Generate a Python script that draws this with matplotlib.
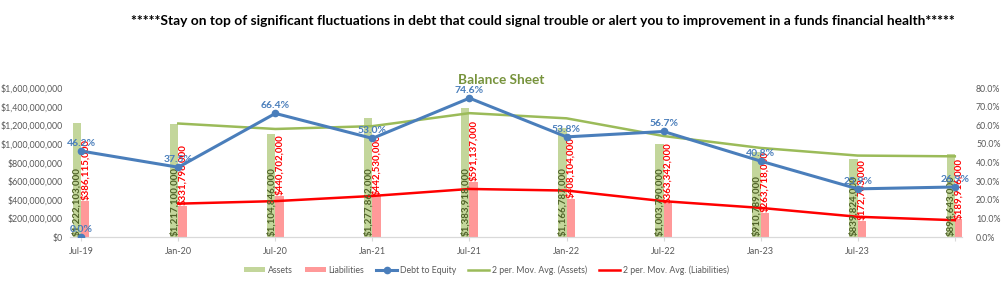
import numpy as np
import matplotlib.pyplot as plt
from matplotlib.ticker import FuncFormatter, PercentFormatter

# Data
periods = ['Jul-19', 'Jan-20', 'Jul-20', 'Jan-21', 'Jul-21', 'Jan-22', 'Jul-22', 'Jan-23', 'Jul-23', '']
assets = [1222103000, 1217100000, 1104846000, 1277862000, 1383918000,
          1166787000, 1003790000, 910789000, 839824000, 894643000]
liabilities = [386115000, 331796000, 440702000, 442530000, 591137000,
               408104000, 363342000, 263718000, 172783000, 189916000]
debt_to_equity = [0.462, 0.375, 0.664, 0.530, 0.746, 0.538, 0.567, 0.408, 0.259, 0.269]
extra_de_point = 0.0  # lone 0.0% point at Jul-19

assets_ma = [np.nan] + [(assets[i - 1] + assets[i]) / 2 for i in range(1, len(assets))]
liab_ma = [np.nan] + [(liabilities[i - 1] + liabilities[i]) / 2 for i in range(1, len(liabilities))]

x = np.arange(len(periods))
bw = 0.085

c_assets = '#c3d69b'
c_liab = '#ff9999'
c_de = '#4a7ebb'
c_ma_a = '#9bbb59'
c_ma_l = '#ff0000'
grey = '#595959'

plt.rcParams['font.family'] = ['Lato', 'DejaVu Sans']

fig = plt.figure(figsize=(10.05, 2.86), dpi=100)
ax = fig.add_axes([0.0697, 0.171, 0.8876, 0.521])

b1 = ax.bar(x - bw / 2, assets, bw, color=c_assets, label='Assets', zorder=1)
b2 = ax.bar(x + bw / 2, liabilities, bw, color=c_liab, label='Liabilities', zorder=1)
l_ma_a, = ax.plot(x, assets_ma, color=c_ma_a, lw=1.8, label='2 per. Mov. Avg. (Assets)', zorder=3)
l_ma_l, = ax.plot(x, liab_ma, color=c_ma_l, lw=1.8, label='2 per. Mov. Avg. (Liabilities)', zorder=3)

# bar labels
for xi, a in zip(x, assets):
    ax.text(xi - bw / 2, 1.5e7, f'${a:,.0f}', rotation=90, ha='center', va='bottom',
            color='#4f6228', fontsize=7, fontweight='bold', zorder=5)
for xi, l in zip(x, liabilities):
    ax.text(xi + bw / 2, l + 8e6, f'${l:,.0f}', rotation=90, ha='center', va='bottom',
            color='#ff0000', fontsize=7, fontweight='bold', zorder=5)

ax.set_ylim(0, 1.6e9)
ax.set_yticks(np.arange(0, 1.6e9 + 1, 2e8))
ax.yaxis.set_major_formatter(FuncFormatter(lambda v, p: f'${v:,.0f}'))
ax.set_xlim(-0.115, 9.075)
ax.set_xticks(x)
ax.set_xticklabels(periods)

ax2 = ax.twinx()
l_de, = ax2.plot(x, debt_to_equity, color=c_de, lw=2.2, marker='o', ms=4.5,
                 label='Debt to Equity', zorder=4)
ax2.plot([0], [extra_de_point], color=c_de, marker='o', ms=4.5, ls='none', zorder=4)
for xi, v in zip(list(x) + [0], debt_to_equity + [extra_de_point]):
    ax2.text(xi, v + 0.018, f'{v * 100:.1f}%', ha='center', va='bottom',
             color=c_de, fontsize=7.5, fontweight='bold', zorder=6)
ax2.set_ylim(0, 0.8)
ax2.set_yticks(np.arange(0, 0.81, 0.1))
ax2.yaxis.set_major_formatter(PercentFormatter(1.0, decimals=1))

for a in (ax, ax2):
    for s in ('top', 'left', 'right'):
        a.spines[s].set_visible(False)
    a.spines['bottom'].set_color('#d9d9d9')
    a.tick_params(axis='both', colors=grey, labelsize=6.3, length=0)
ax.tick_params(axis='y', pad=5)
ax2.tick_params(axis='y', pad=10)
ax.tick_params(axis='x', length=3, color='#d9d9d9', pad=4, labelsize=6.5)

fig.text(0.54, 0.925, '*****Stay on top of significant fluctuations in debt that could signal trouble '
         'or alert you to improvement in a funds financial health*****',
         ha='center', va='center', fontsize=9.9, fontweight='bold', color='black')
fig.text(0.499, 0.72, 'Balance Sheet', ha='center', va='center', fontsize=9.8,
         fontweight='bold', color='#77933c')

fig.legend(handles=[b1, b2, l_de, l_ma_a, l_ma_l], loc='center', bbox_to_anchor=(0.484, 0.055),
           ncol=5, frameon=False, fontsize=6.3, labelcolor=grey, handlelength=2.4,
           handleheight=0.5, columnspacing=1.4, handletextpad=0.3)

fig.savefig('out.png', dpi=100)
